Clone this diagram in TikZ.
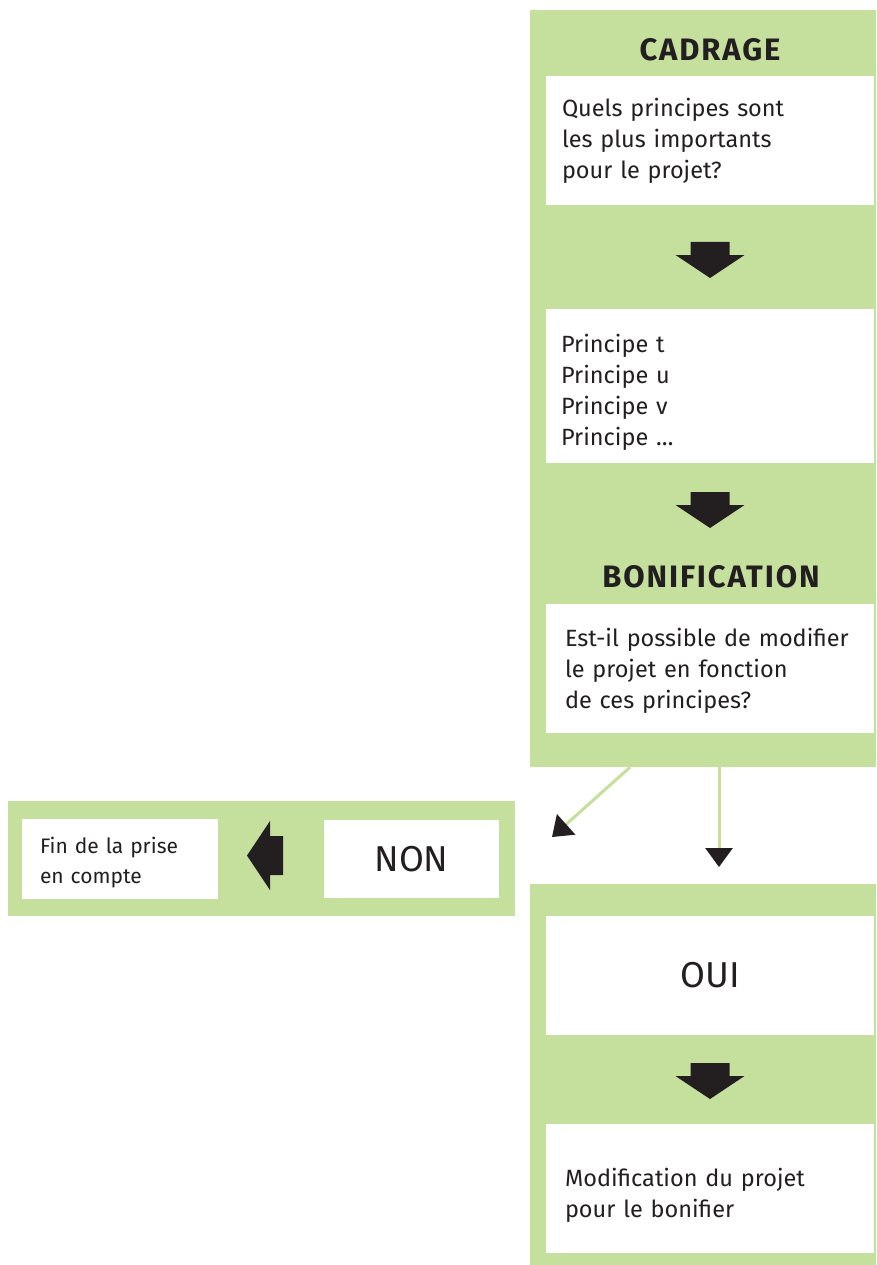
\documentclass[tikz,border=0pt]{standalone}
\usepackage{fontspec}
\setmainfont{Fira Sans}
\usetikzlibrary{arrows.meta,positioning}
\definecolor{leaf}{RGB}{197,223,157}
\definecolor{ink}{RGB}{35,31,32}
\tikzset{
  panel/.style     = {fill=leaf, inner sep=0pt},
  box/.style       = {fill=white, inner sep=0pt, minimum height=129pt, text=ink},
  note/.style      = {box, align=left, text width=#1, inner xsep=16pt,
                      font=\fontsize{23.5}{31}\selectfont},
  answer/.style    = {box, font=\fontsize{36}{40}\selectfont},
  heading/.style   = {text=ink, inner sep=0pt,
                      font=\bfseries\fontsize{31}{36}\selectfont\addfontfeatures{LetterSpace=6}},
  link/.style      = {draw=leaf, line width=3pt, -{Triangle[length=19pt,width=27pt,color=ink]}},
  blockarrow/.pic  = {\fill[ink] (-19.5,0) -- (19.5,0) -- (19.5,13) -- (34.5,13)
                      -- (0,36) -- (-34.5,13) -- (-19.5,13) -- cycle;}
}
\begin{document}
\begin{tikzpicture}[x=1pt,y=-1pt]
  \useasboundingbox (0,0) rectangle (876,1265);
  % green panels
  \node[panel, minimum width=346pt, minimum height=757pt] (cadrage) at (703,388.5) {};
  \node[panel, minimum width=507pt, minimum height=115pt] (refus) at (261.5,858.5) {};
  \node[panel, minimum width=346pt, minimum height=381pt] (accord) at (703,1074.5) {};
  % cadrage
  \node[heading] (tcadrage) at (710,50) {CADRAGE};
  \node[note=296pt] (question) at (710,140.5) {Quels principes sont\\les plus importants\\pour le projet?};
  \pic (fl1) at (710,242) {blockarrow};
  \node[box, minimum width=328pt, minimum height=154pt] (principes) at (710,386) {};
  \node[note=298pt, inner xsep=15pt, fill=none, minimum height=0pt, anchor=north west]
    (liste) at ([yshift=-25pt]principes.north west) {Principe t\\Principe u\\Principe v\\Principe \dots};
  \pic (fl2) at (710,492) {blockarrow};
  % bonification
  \node[heading] (tbonif) at (711,577) {BONIFICATION};
  \node[box, minimum width=328pt] (possible) at (710,668.5) {};
  \node[note=290pt, inner xsep=19pt, fill=none, minimum height=0pt, anchor=west]
    (possibletexte) at ([yshift=-2pt]possible.west)
    {Est-il possible de modifier\\le projet en fonction\\de ces principes?};
  \coordinate (nonin) at (552,837);
  \coordinate (ouiin) at (719,867);
  \draw[link] ([xshift=-73pt]cadrage.south) -- (nonin);
  \draw[link] ([xshift=16pt]cadrage.south) -- (ouiin);
  % non
  \node[answer, minimum width=175pt, minimum height=78pt] (non) at (411.5,859) {NON};
  \pic[rotate=-90] (fl3) at (283,855.5) {blockarrow};
  \node[box, minimum width=196pt, minimum height=80pt] (fin) at (120,859) {};
  \node[note=160pt, inner xsep=18pt, fill=none, minimum height=0pt, anchor=west,
    font=\fontsize{21}{30}\selectfont] (fintexte) at ([yshift=-4pt]fin.west) {Fin de la prise\\en compte};
  % oui
  \node[answer, minimum width=328pt, minimum height=119pt] (oui) at (710,975.5) {OUI};
  \pic (fl4) at (710,1063) {blockarrow};
  \node[box, minimum width=328pt] (modif) at (710,1188.5) {};
  \node[note=290pt, inner xsep=19pt, fill=none, minimum height=0pt, anchor=west]
    (modiftexte) at ([yshift=-7pt]modif.west) {Modification du projet\\pour le bonifier};
\end{tikzpicture}
\end{document}
